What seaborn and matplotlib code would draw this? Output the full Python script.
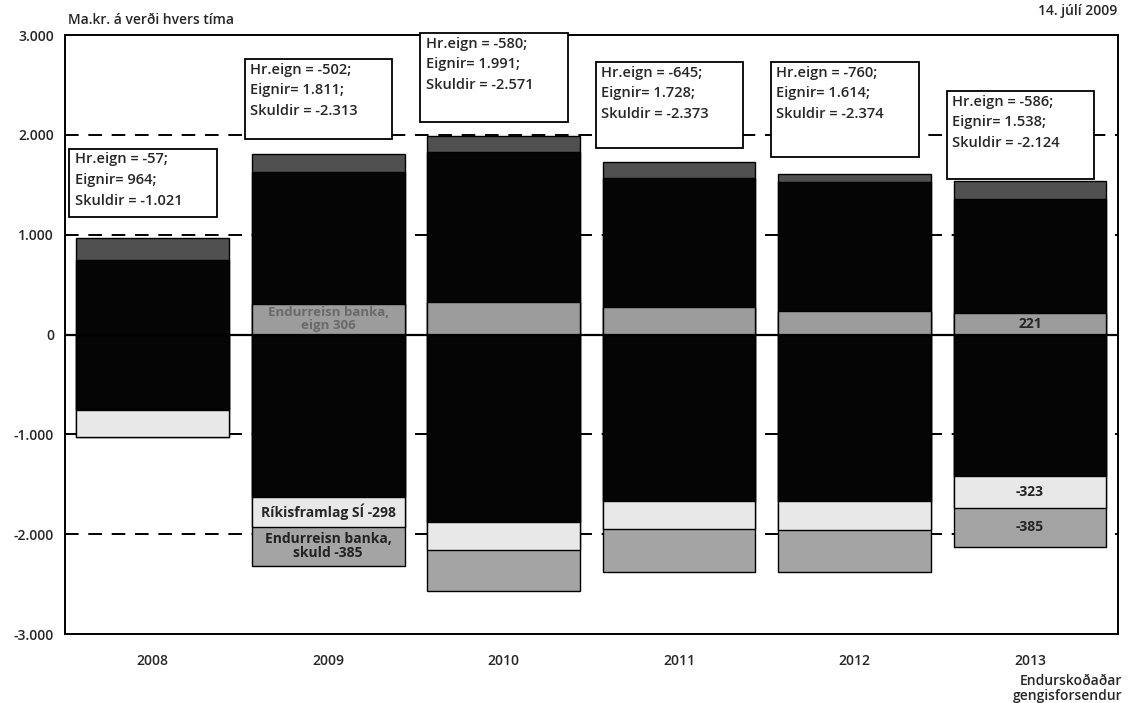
import numpy as np
import pandas as pd
import matplotlib
matplotlib.use("Agg")
import matplotlib.pyplot as plt
import seaborn as sns
from matplotlib.patches import Rectangle
from matplotlib.ticker import FuncFormatter

# ---- data ----
years = ["2008", "2009", "2010", "2011", "2012", "2013"]
eign_endurreisn = [0, 306, 330, 280, 240, 221]
eignir_main = [744, 1325, 1500, 1288, 1284, 1137]
eignir_other = [220, 180, 161, 160, 90, 180]
skuldir_main = [-760, -1630, -1874, -1670, -1670, -1416]
rikisframlag = [-261, -298, -280, -280, -285, -323]
skuld_endurreisn = [0, -385, -417, -423, -419, -385]
hr_eign = [-57, -502, -580, -645, -760, -586]
eignir_tot = [964, 1811, 1991, 1728, 1614, 1538]
skuldir_tot = [-1021, -2313, -2571, -2373, -2374, -2124]
yticks = [-3000, -2000, -1000, 0, 1000, 2000, 3000]

def fmt(v):
    return f"{v:,}".replace(",", ".")

sns.set_style("white")
plt.rcParams["font.family"] = ["Open Sans", "DejaVu Sans"]

fig = plt.figure(figsize=(11.29, 7.03), dpi=100)
ax = fig.add_axes([0.0576, 0.098, 0.9324, 0.852])

df = pd.DataFrame({"year": years})
df["p1"] = np.array(eign_endurreisn)
df["p2"] = df["p1"] + np.array(eignir_main)
df["p3"] = df["p2"] + np.array(eignir_other)
df["n1"] = np.array(skuldir_main)
df["n2"] = df["n1"] + np.array(rikisframlag)
df["n3"] = df["n2"] + np.array(skuld_endurreisn)

W = 0.87
layers = [("p3", "#505050"), ("p2", "#050505"), ("p1", "#9c9c9c"),
          ("n3", "#a4a4a4"), ("n2", "#e8e8e8"), ("n1", "#050505")]
for col, c in layers:
    sns.barplot(data=df, x="year", y=col, color=c, saturation=1, width=W,
                edgecolor="black", linewidth=1.0, errorbar=None, ax=ax, zorder=2)

for g in [-2000, -1000, 1000, 2000]:
    ax.axhline(g, color="black", lw=1.4, ls=(0, (7, 5)), zorder=1)
ax.axhline(0, color="black", lw=1.6, zorder=3)

ax.set_ylim(-3000, 3000)
ax.set_xlim(-0.5, 5.5)
ax.set_yticks(yticks)
ax.yaxis.set_major_formatter(FuncFormatter(lambda v, p: fmt(int(v))))
ax.tick_params(axis="y", direction="in", length=7, width=1.2, labelsize=10, pad=8)
ax.tick_params(axis="x", length=0, labelsize=10, pad=14)
for lab in ax.get_xticklabels() + ax.get_yticklabels():
    lab.set_fontweight("semibold")
ax.set_xlabel("")
ax.set_ylabel("")
for s in ax.spines.values():
    s.set_color("black")
    s.set_linewidth(1.4)
    s.set_visible(True)

# annotation boxes
box_top = [1860, 2760, 3020, 2730, 2730, 2440]
box_bot = [1180, 1960, 2130, 1870, 1780, 1560]
for i in range(len(years)):
    left = i - 0.475
    ax.add_patch(Rectangle((left, box_bot[i]), 0.84, box_top[i] - box_bot[i],
                           facecolor="white", edgecolor="black", lw=1.3,
                           zorder=5, clip_on=False))
    txt = (f"Hr.eign = {fmt(hr_eign[i])};\nEignir= {fmt(eignir_tot[i])};\n"
           f"Skuldir = {fmt(skuldir_tot[i])}")
    ax.text(left + 0.03, box_top[i] - 35, txt, ha="left", va="top",
            fontsize=10.5, linespacing=1.6, zorder=6, fontweight="semibold")

# in-bar labels
ax.text(1, eign_endurreisn[1] / 2, "Endurreisn banka,\neign 306", ha="center",
        va="center", fontsize=9.5, color="#6a6a6a", fontweight="bold",
        linespacing=1.0, zorder=4)
ax.text(1, skuldir_main[1] + rikisframlag[1] / 2, f"Ríkisframlag SÍ {rikisframlag[1]}",
        ha="center", va="center", fontsize=10, fontweight="bold", zorder=4)
ax.text(1, df["n2"][1] + skuld_endurreisn[1] / 2, f"Endurreisn banka,\nskuld {skuld_endurreisn[1]}",
        ha="center", va="center", fontsize=10, fontweight="bold", color="#222222",
        linespacing=1.0, zorder=4)
ax.text(5, eign_endurreisn[5] / 2, f"{eign_endurreisn[5]}", ha="center", va="center",
        fontsize=10, fontweight="bold", zorder=4)
ax.text(5, skuldir_main[5] + rikisframlag[5] / 2, f"{rikisframlag[5]}", ha="center",
        va="center", fontsize=10, fontweight="bold", zorder=4)
ax.text(5, df["n2"][5] + skuld_endurreisn[5] / 2, f"{skuld_endurreisn[5]}", ha="center",
        va="center", fontsize=10, fontweight="bold", zorder=4)

fig.text(0.06, 0.962, "Ma.kr. á verði hvers tíma", ha="left", va="bottom",
         fontsize=10, fontweight="semibold")
fig.text(0.99, 0.975, "14. júlí 2009", ha="right", va="bottom",
         fontsize=10, fontweight="semibold")
fig.text(0.994, 0.0, "Endurskoðaðar\ngengisforsendur", ha="right", va="bottom",
         fontsize=10, fontweight="semibold", linespacing=1.1)

fig.savefig("out.png", dpi=100)
